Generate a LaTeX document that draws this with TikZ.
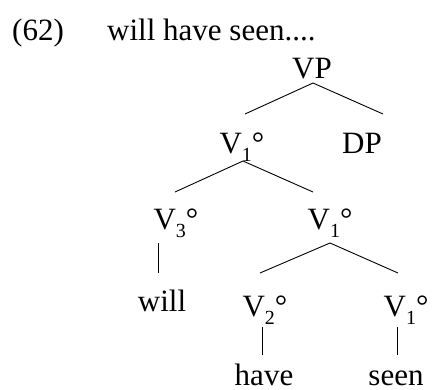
\documentclass[tikz,border=0pt]{standalone}
\usepackage{fontspec}
\setmainfont{Liberation Serif}
\newcommand{\vcat}[1]{V\raisebox{-0.27em}{\fontsize{20}{20}\selectfont #1}°}

\begin{document}
\begin{tikzpicture}[
  x=1pt, y=-1pt,
  font=\fontsize{31}{37}\selectfont,
  cat/.style={anchor=base, inner sep=0pt},
  branch/.style={line width=0.9pt, black}
]
\useasboundingbox (0,0) rectangle (436,389);
% example number and heading
\node[cat, anchor=base west] (num) at (12,40) {(62)};
\node[cat, anchor=base west] (head) at (107,40) {will have seen....};
% tree
\node[cat] (vp) at (312,78) {VP};
\node[cat] (v1a) at (242,153) {\vcat{1}};
\node[cat] (dp) at (362,153) {DP};
\node[cat] (v3) at (176,229) {\vcat{3}};
\node[cat] (v1b) at (330,229) {\vcat{1}};
\node[cat] (will) at (162,311) {will};
\node[cat] (v2) at (265,316) {\vcat{2}};
\node[cat] (v1c) at (406,316) {\vcat{1}};
\node[cat] (have) at (264,385) {have};
\node[cat] (seen) at (396,385) {seen};
% branches
\draw[branch] ([xshift=1pt,yshift=-5pt]vp.base) -- ([xshift=3pt,yshift=39pt]v1a.base);
\draw[branch] ([xshift=1pt,yshift=-5pt]vp.base) -- ([xshift=21pt,yshift=39pt]dp.base);
\draw[branch] ([xshift=1pt,yshift=-8pt]v1a.base) -- ([xshift=-1pt,yshift=37pt]v3.base);
\draw[branch] ([xshift=1pt,yshift=-8pt]v1a.base) -- ([xshift=-17pt,yshift=37pt]v1b.base);
\draw[branch] ([xshift=-18pt,yshift=-14pt]v3.base) -- ([xshift=-4pt,yshift=38pt]will.base);
\draw[branch] ([yshift=-14pt]v1b.base) -- ([xshift=-5pt,yshift=43pt]v2.base);
\draw[branch] ([yshift=-14pt]v1b.base) -- ([xshift=-8pt,yshift=43pt]v1c.base);
\draw[branch] ([xshift=-3pt,yshift=-11pt]v2.base) -- ([xshift=-2pt,yshift=30pt]have.base);
\draw[branch] ([xshift=-9pt,yshift=-11pt]v1c.base) -- ([xshift=1pt,yshift=30pt]seen.base);
\end{tikzpicture}
\end{document}
